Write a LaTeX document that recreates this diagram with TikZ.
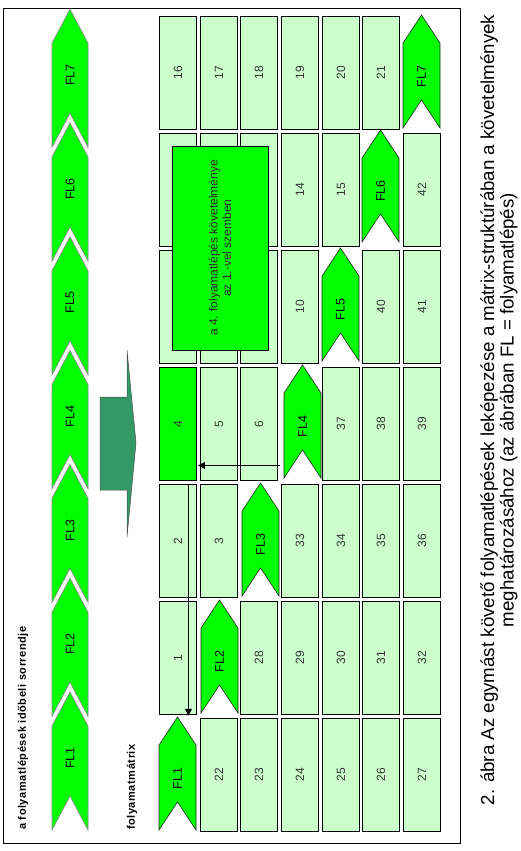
\documentclass[tikz,border=0pt]{standalone}
\usepackage{fontspec}
\setmainfont{Liberation Sans}
\newfontfamily\spacedfont[LetterSpace=5]{Liberation Sans}
\usetikzlibrary{arrows.meta}
\definecolor{cpale}{HTML}{CCFFCC}
\definecolor{cflash}{HTML}{00FF00}
\definecolor{cteal}{HTML}{339966}
\newcommand{\vtext}[1]{\rotatebox{90}{#1}}
\newcommand{\numfont}{\fontsize{12}{14}\selectfont}
\newcommand{\flfont}{\fontsize{12.5}{14}\selectfont}
% chevron: style, name, left x, top y, width, height, point depth, label
\newcommand{\flstep}[8]{%
  \draw[#1] (#3,#4+#7) -- (#3+#5/2,#4) -- (#3+#5,#4+#7) -- (#3+#5,#4+#6)
    -- (#3+#5/2,#4+#6-#7) -- (#3,#4+#6) -- cycle;
  \node[#1 text] (#2) at (#3+#5/2,#4+#6/2) {\vtext{#8}};}

\begin{document}
\begin{tikzpicture}[
  x=1pt, y=-1pt,
  cell/.style={draw, line width=0.9pt, fill=cpale, minimum width=37pt, minimum height=113pt,
               inner sep=0pt, anchor=north west, text=black!80, font=\numfont},
  tl/.style={fill=cflash, draw=black!45, line width=0.7pt},
  tl text/.style={inner sep=0pt, font=\flfont, yshift=3pt},
  mx/.style={fill=cflash, draw=black!85, line width=0.6pt},
  mx text/.style={inner sep=0pt, font=\flfont, yshift=-5pt},
  tag/.style={rotate=90, anchor=west, inner sep=0pt, font=\spacedfont\bfseries\fontsize{11}{13}\selectfont},
  flow/.style={-{Triangle[length=7pt, width=6.5pt]}, line width=1.8pt},
]
\useasboundingbox (0,0) rectangle (521,851);
\draw[line width=0.8pt] (3,8) rectangle (460,843);

% ------------------------------------------------------------ timeline
\node[tag] (order) at (23,830) {a folyamatlépések időbeli sorrendje};
\flstep{tl}{t1}{52}{692}{36}{138}{34}{FL1}
\flstep{tl}{t2}{52}{578.2}{36}{138}{34}{FL2}
\flstep{tl}{t3}{52}{464.4}{36}{138}{34}{FL3}
\flstep{tl}{t4}{52}{350.6}{36}{138}{34}{FL4}
\flstep{tl}{t5}{52}{236.8}{36}{138}{34}{FL5}
\flstep{tl}{t6}{52}{123}{36}{138}{34}{FL6}
\flstep{tl}{t7}{52}{9.2}{36}{138}{34}{FL7}

\draw[fill=cteal, draw=black!70, line width=0.5pt] (100,397) -- (127,397) -- (127,350)
  -- (136,443) -- (127,537) -- (127,490) -- (100,490) -- cycle;

% ------------------------------------------------------------ matrix
\node[tag] (matrix) at (132,830) {folyamatmátrix};

\node[cell] (n16) at (159,16) {\vtext{16}};
\node[cell] (n17) at (200,16) {\vtext{17}};
\node[cell] (n18) at (240,16) {\vtext{18}};
\node[cell] (n19) at (281,16) {\vtext{19}};
\node[cell] (n20) at (322,16) {\vtext{20}};
\node[cell] (n21) at (362,16) {\vtext{21}};
\flstep{mx}{m7}{403}{15}{37}{113}{28}{FL7}

\node[cell] (h10) at (159,133) {};
\node[cell] (h11) at (200,133) {};
\node[cell] (h12) at (240,133) {};
\node[cell] (n14) at (281,133) {\vtext{14}};
\node[cell] (n15) at (322,133) {\vtext{15}};
\flstep{mx}{m6}{362}{130}{37}{112}{28}{FL6}
\node[cell] (n42) at (403,133) {\vtext{42}};

\node[cell] (h20) at (159,250) {};
\node[cell] (h21) at (200,250) {};
\node[cell] (h22) at (240,250) {};
\node[cell] (n10) at (281,250) {\vtext{10}};
\flstep{mx}{m5}{322}{248}{37}{113}{28}{FL5}
\node[cell] (n40) at (362,250) {\vtext{40}};
\node[cell] (n41) at (403,250) {\vtext{41}};

\node[cell, fill=cflash] (n4) at (159,367) {\vtext{4}};
\node[cell] (n5) at (200,367) {\vtext{5}};
\node[cell] (n6) at (240,367) {\vtext{6}};
\flstep{mx}{m4}{284}{365}{37}{113}{28}{FL4}
\node[cell] (n37) at (322,367) {\vtext{37}};
\node[cell] (n38) at (362,367) {\vtext{38}};
\node[cell] (n39) at (403,367) {\vtext{39}};

\node[cell] (n2) at (159,484) {\vtext{2}};
\node[cell] (n3) at (200,484) {\vtext{3}};
\flstep{mx}{m3}{242}{483}{37}{113}{28}{FL3}
\node[cell] (n33) at (281,484) {\vtext{33}};
\node[cell] (n34) at (322,484) {\vtext{34}};
\node[cell] (n35) at (362,484) {\vtext{35}};
\node[cell] (n36) at (403,484) {\vtext{36}};

\node[cell] (n1) at (159,601) {\vtext{1}};
\flstep{mx}{m2}{201}{600}{37}{113}{28}{FL2}
\node[cell] (n28) at (240,601) {\vtext{28}};
\node[cell] (n29) at (281,601) {\vtext{29}};
\node[cell] (n30) at (322,601) {\vtext{30}};
\node[cell] (n31) at (362,601) {\vtext{31}};
\node[cell] (n32) at (403,601) {\vtext{32}};

\flstep{mx}{m1}{159}{717}{37}{113}{28}{FL1}
\node[cell] (n22) at (200,718) {\vtext{22}};
\node[cell] (n23) at (240,718) {\vtext{23}};
\node[cell] (n24) at (281,718) {\vtext{24}};
\node[cell] (n25) at (322,718) {\vtext{25}};
\node[cell] (n26) at (362,718) {\vtext{26}};
\node[cell] (n27) at (403,718) {\vtext{27}};

% requirement of step 4 towards step 1
\node[draw, line width=0.9pt, fill=cflash, rotate=90, minimum width=204pt, minimum height=96pt,
      align=center, text=black!85, font=\fontsize{12}{13.5}\selectfont] (req) at (220,248)
  {a 4. folyamatlépés követelménye\\ az 1.-vel szemben};
\draw[flow] ([xshift=10.5pt]n2.north) -- ([xshift=10.5pt, yshift=-1pt]n1.south);
\draw[flow] ([xshift=2.5pt, yshift=-41.5pt]n6.east) -- ([xshift=1pt, yshift=-41.5pt]n4.east);

% ------------------------------------------------------------ caption
\node[rotate=90, align=center, inner sep=0pt, font=\fontsize{18.7}{19.5}\selectfont] (caption) at (499,410)
  {2. ábra Az egymást követő folyamatlépések leképezése a mátrix-struktúrában a követelmények\\
   meghatározásához (az ábrában FL = folyamatlépés)};
\end{tikzpicture}
\end{document}
